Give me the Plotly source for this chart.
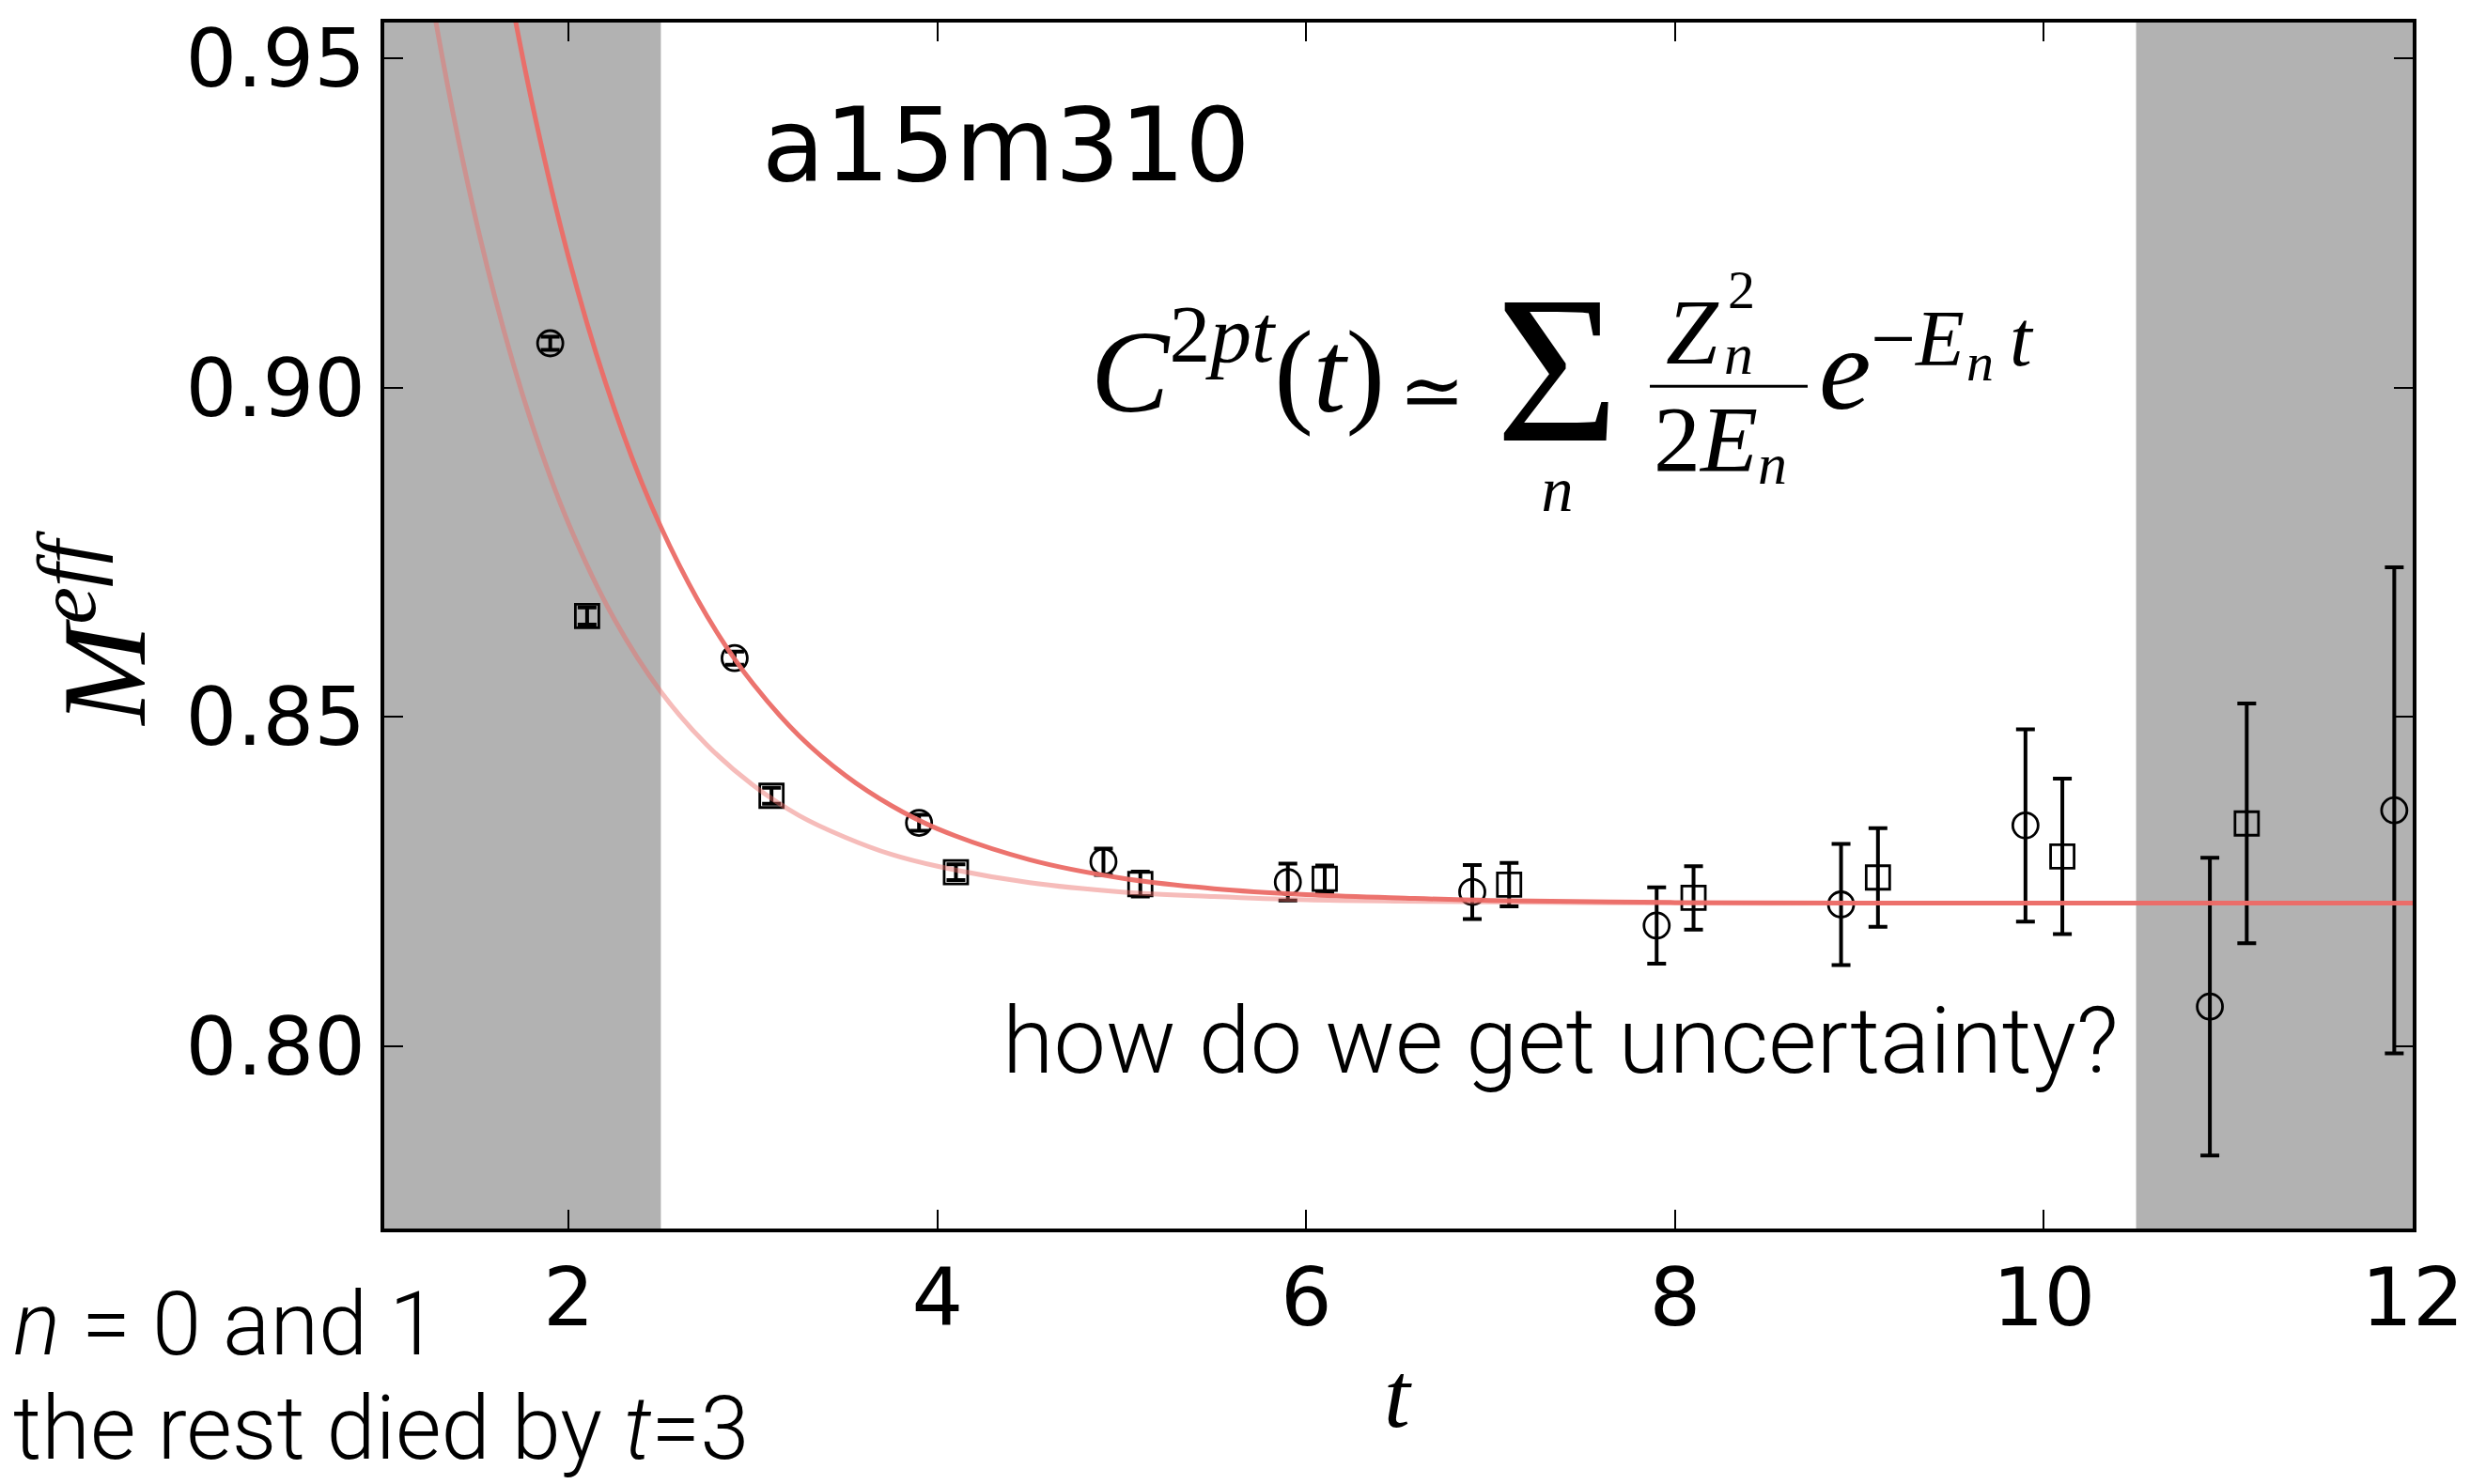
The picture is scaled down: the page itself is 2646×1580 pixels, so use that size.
import plotly.graph_objects as go

# ---------------- data ----------------
circ_t = [1.9, 2.9, 3.9, 4.9, 5.9, 6.9, 7.9, 8.9, 9.9, 10.9, 11.9]
circ_m = [0.9067, 0.8589, 0.8339, 0.8280, 0.8249, 0.8234, 0.8183, 0.8215, 0.8335, 0.8060, 0.8358]
circ_err = [0.0010, 0.0010, 0.0012, 0.0020, 0.0028, 0.0041, 0.0058, 0.0092, 0.0146, 0.0226, 0.0369]

sq_t = [2.1, 3.1, 4.1, 5.1, 6.1, 7.1, 8.1, 9.1, 10.1, 11.1]
sq_m = [0.8653, 0.8380, 0.8264, 0.8246, 0.8254, 0.8245, 0.8225, 0.8256, 0.8288, 0.8338]
sq_err = [0.0013, 0.0012, 0.0012, 0.0019, 0.0020, 0.0033, 0.0048, 0.0075, 0.0118, 0.0182]

fit1_t = [1.5, 1.6, 1.8, 2.0, 2.2, 2.4, 2.6, 2.8, 3.0, 3.25, 3.5, 3.75, 4.0, 4.5, 5.0,
          5.5, 6.0, 6.5, 7.0, 8.0, 9.0, 10.0, 11.0, 12.0]
fit1_m = [0.9900, 0.9727, 0.9434, 0.9197, 0.9007, 0.8853, 0.8730, 0.8630, 0.8550, 0.8471,
          0.8411, 0.8365, 0.8330, 0.8283, 0.8255, 0.8239, 0.8230, 0.8225, 0.8221, 0.8218,
          0.8217, 0.8217, 0.8217, 0.8217]

fit2_t = [1.0, 1.2, 1.4, 1.6, 1.8, 2.0, 2.25, 2.5, 2.75, 3.0, 3.25, 3.5, 3.75, 4.0, 4.5,
          5.0, 5.5, 6.0, 6.5, 7.0, 8.0, 9.0, 10.0, 11.0, 12.0]
fit2_m = [1.0070, 0.9686, 0.9379, 0.9137, 0.8945, 0.8793, 0.8647, 0.8538, 0.8457, 0.8396,
          0.8350, 0.8317, 0.8291, 0.8273, 0.8248, 0.8234, 0.8227, 0.8222, 0.8220, 0.8219,
          0.8217, 0.8217, 0.8217, 0.8217, 0.8217]

excluded_ranges = [(1.0, 2.5), (10.5, 12.0)]

x_ticks = [2, 4, 6, 8, 10, 12]
x_ticktext = ["2", "4", "6", "8", "10", "12"]
y_ticks = [0.80, 0.85, 0.90, 0.95]
y_ticktext = ["0.80", "0.85", "0.90", "0.95"]

x_range = [1.0, 12.0]
y_range = [0.7723, 0.9554]

# ---------------- layout geometry (pixels) ----------------
W, H = 2646, 1580
PL, PR, PT, PB = 409, 2568, 15, 1308


def px(x):
    return (x - PL) / (PR - PL)


def py(y):
    return (PB - y) / (PB - PT)


SERIF = "Liberation Serif"
RED = "rgb(236,108,103)"

fig = go.Figure()

for x0, x1 in excluded_ranges:
    fig.add_shape(type="rect", xref="x", yref="paper", x0=x0, x1=x1, y0=0, y1=1,
                  fillcolor="rgb(178,178,178)", line=dict(width=0), layer="below")

fig.add_trace(go.Scatter(
    x=circ_t, y=circ_m, mode="markers",
    marker=dict(symbol="circle-open", size=27, color="black", line=dict(width=2.8, color="black")),
    error_y=dict(type="data", array=circ_err, color="black", thickness=4, width=10),
    showlegend=False))
fig.add_trace(go.Scatter(
    x=sq_t, y=sq_m, mode="markers",
    marker=dict(symbol="square-open", size=25, color="black", line=dict(width=2.8, color="black")),
    error_y=dict(type="data", array=sq_err, color="black", thickness=4, width=10),
    showlegend=False))

fig.add_trace(go.Scatter(x=fit2_t, y=fit2_m, mode="lines", line=dict(color=RED, width=5, shape="spline"),
                         opacity=0.45, showlegend=False))
fig.add_trace(go.Scatter(x=fit1_t, y=fit1_m, mode="lines", line=dict(color=RED, width=5, shape="spline"),
                         opacity=0.95, showlegend=False))

axis_common = dict(showline=True, linewidth=3.5, linecolor="black", mirror="allticks",
                   ticks="inside", ticklen=20, tickwidth=2, tickcolor="black",
                   showgrid=False, zeroline=False,
                   tickfont=dict(family="DejaVu Sans", size=86, color="black"))

fig.update_xaxes(range=x_range, tickvals=x_ticks, ticktext=x_ticktext, ticklabelstandoff=-4, **axis_common)
fig.update_yaxes(range=y_range, tickvals=y_ticks, ticktext=y_ticktext, ticklabelstandoff=-1, **axis_common)

ann = []


def text_at(text, x, base, size, family, desc, xanchor="left", weight=None):
    """place a single-line text so that its baseline sits at pixel row `base`"""
    f = dict(family=family, size=size, color="black")
    if weight:
        f["weight"] = weight
    ann.append(dict(text=text, x=px(x), y=py(base + desc * size), xref="paper", yref="paper",
                    xanchor=xanchor, yanchor="bottom", showarrow=False, borderpad=0, font=f))


def stacked(lines, sizes, x, last_base, spacing, family, desc, xanchor="left", align="left", weight=None):
    """several lines in ONE text element; each line has its own font size,
    line pitch = `spacing` px, last line baseline at `last_base`"""
    base_size = spacing / 1.3
    text = "<br>".join(f"<span style='font-size:{s}px'>{t}</span>" for t, s in zip(lines, sizes))
    f = dict(family=family, size=base_size, color="black")
    if weight:
        f["weight"] = weight
    ann.append(dict(text=text, x=px(x), y=py(last_base + desc * sizes[-1]), xref="paper", yref="paper",
                    xanchor=xanchor, yanchor="bottom", align=align, showarrow=False, borderpad=0, font=f))


def text_center(text, x, y, size, family, angle=0):
    ann.append(dict(text=text, x=px(x), y=py(y), xref="paper", yref="paper",
                    xanchor="center", yanchor="middle", showarrow=False, borderpad=0,
                    font=dict(family=family, size=size, color="black"), textangle=angle))


LSD = 0.216  # Liberation Serif descent

# label of the ensemble
text_at("a15m310", 810, 186, 109, "DejaVu Sans", 0.236)

# formula  C^{2pt}(t) ~= sum_n Z_n^2 / (2 E_n) e^{-E_n t}
text_at("<i>C</i><sup>2<i>pt</i></sup>(<i>t</i>)", 1160, 433, 125, SERIF, LSD)
text_at("≃", 1488, 440, 84, "DejaVu Serif", 0.236)
stacked(["Σ", "<i>n</i>"], [225, 68], 1657, 540, 75, SERIF, LSD, xanchor="center", align="center")
text_at("<i>Z</i>", 1772, 382, 100, SERIF, LSD)
text_at("2", 1838, 323, 58, SERIF, LSD)
text_at("<i>n</i>", 1834, 392, 62, SERIF, LSD)
text_at("2<i>E</i>", 1759, 497, 100, SERIF, LSD)
text_at("<i>n</i>", 1870, 510, 62, SERIF, LSD)
text_at("<i>e</i>", 1935, 430, 125, SERIF, LSD)
text_at("−<i>E</i>", 1990, 383, 85, SERIF, LSD)
text_at("<i>n</i>", 2092, 400, 58, SERIF, LSD)
text_at("<i>t</i>", 2138, 383, 85, SERIF, LSD)

# presentation annotations
text_at("how do we get uncertainty?", 2256, 1142, 99, "Roboto", 0.244, xanchor="right", weight=300)
text_at("<i>n</i> = 0 and 1", 13, 1444, 94, "Roboto", 0.244, weight=300)
text_at("the rest died by <i>t</i>=3", 13, 1556, 94, "Roboto", 0.244, weight=300)

# axis titles
text_center("<i>t</i>", 1488, 1487, 100, SERIF)
text_center("<i>M</i><sup><i>eff</i></sup>", 102, 665, 128, SERIF, angle=-90)

fig.update_layout(
    width=W, height=H, autosize=False,
    margin=dict(l=PL, r=W - PR, t=PT, b=H - PB, pad=0),
    paper_bgcolor="white", plot_bgcolor="white",
    annotations=ann,
    shapes=list(fig.layout.shapes) + [
        dict(type="line", xref="paper", yref="paper", x0=px(1756), x1=px(1924), y0=py(405), y1=py(405),
             line=dict(color="black", width=3))
    ],
)

fig.write_html("out.html")
